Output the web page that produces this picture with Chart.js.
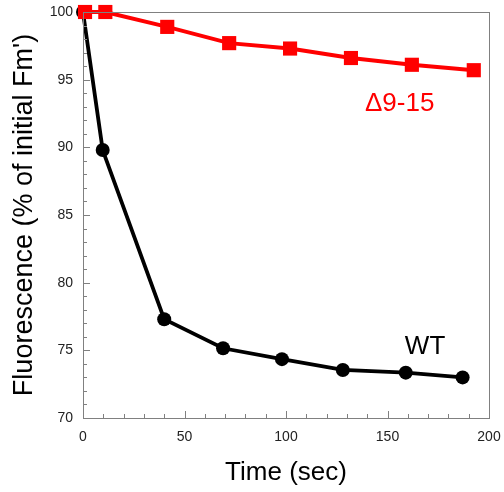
<!DOCTYPE html>
<html>
<head>
<meta charset="utf-8">
<script src="https://cdn.jsdelivr.net/npm/chart.js@4"></script>
<style>
  html, body { margin: 0; padding: 0; background: #fff; }
  #wrap { width: 504px; height: 492px; }
</style>
</head>
<body>
<div id="wrap"><canvas id="fluor-chart" width="504" height="492"></canvas></div>
<script>
// time (sec) and fluorescence (% of initial Fm')
const wtTime = [0, 9.7, 40, 69, 98, 128, 159, 187];
const wtValues = [100, 89.8, 77.3, 75.15, 74.35, 73.55, 73.35, 73.0];
const mutTime = [1, 11, 41.5, 72, 102, 132, 162, 192.5];
const mutValues = [100, 100, 98.9, 97.7, 97.3, 96.6, 96.1, 95.7];
const xTicks = [0, 50, 100, 150, 200];
const yTicks = [70, 75, 80, 85, 90, 95, 100];
const seriesLabels = ['\u03949-15', 'WT'];
// where the two series names sit, in data units
const labelSpots = [[156, 93.25], [168.5, 75.25]];

const fontFamily = '"Liberation Sans", Arial, sans-serif';
const axisGray = '#808080';

const toPoints = (xs, ys) => xs.map((x, i) => ({ x: x, y: ys[i] }));

// keep the plot box where the figure has it, labels may overhang
function noEdgePadding(scale) {
  scale.paddingLeft = 0;
  scale.paddingRight = 0;
  scale.paddingTop = 0;
  scale.paddingBottom = 0;
}

// inward tick marks + box frame, drawn through the chart scales
const frameTicks = {
  id: 'frameTicks',
  afterDraw(chart) {
    const ctx = chart.ctx;
    const area = chart.chartArea;
    const xs = chart.scales.x;
    const ys = chart.scales.y;
    ctx.save();
    ctx.strokeStyle = axisGray;
    ctx.lineWidth = 1;
    ctx.strokeRect(area.left + 0.5, area.top + 0.5, area.right - area.left, area.bottom - area.top);
    ctx.beginPath();
    for (let v = 0; v <= 200; v += 10) {
      const px = Math.round(xs.getPixelForValue(v)) + 0.5;
      const len = v % 50 === 0 ? 7 : 4;
      ctx.moveTo(px, area.bottom);
      ctx.lineTo(px, area.bottom - len);
    }
    for (let v = 70; v <= 100; v += 1) {
      const py = Math.round(ys.getPixelForValue(v)) + 0.5;
      const len = v % 5 === 0 ? 7 : 4;
      ctx.moveTo(area.left, py);
      ctx.lineTo(area.left + len, py);
    }
    ctx.stroke();
    ctx.restore();
  },
  afterDatasetsDraw(chart) {
    const ctx = chart.ctx;
    const xs = chart.scales.x;
    const ys = chart.scales.y;
    ctx.save();
    ctx.font = '26px ' + fontFamily;
    ctx.textAlign = 'center';
    ctx.textBaseline = 'middle';
    const colors = ['#ff0000', '#000000'];
    seriesLabels.forEach((txt, i) => {
      ctx.fillStyle = colors[i];
      ctx.fillText(txt, xs.getPixelForValue(labelSpots[i][0]), ys.getPixelForValue(labelSpots[i][1]));
    });
    ctx.restore();
  }
};

new Chart(document.getElementById('fluor-chart').getContext('2d'), {
  type: 'line',
  data: {
    datasets: [
      {
        label: seriesLabels[0],
        data: toPoints(mutTime, mutValues),
        borderColor: '#ff0000',
        backgroundColor: '#ff0000',
        borderWidth: 4,
        pointStyle: 'rect',
        pointRadius: 10,
        pointBorderWidth: 0,
        clip: false,
      },
      {
        label: seriesLabels[1],
        data: toPoints(wtTime, wtValues),
        borderColor: '#000000',
        backgroundColor: '#000000',
        borderWidth: 3.8,
        pointStyle: 'circle',
        pointRadius: 7,
        pointBorderWidth: 0,
        clip: false,
      },
    ],
  },
  options: {
    responsive: false,
    animation: false,
    layout: { padding: { top: 12, right: 15, left: 0, bottom: 0 } },
    plugins: { legend: { display: false }, tooltip: { enabled: false } },
    scales: {
      x: {
        type: 'linear',
        min: 0,
        max: 200,
        afterFit(scale) { scale.height = 74; noEdgePadding(scale); },
        afterBuildTicks(scale) { scale.ticks = xTicks.map(v => ({ value: v })); },
        grid: { display: false, drawTicks: false },
        border: { display: false },
        ticks: { padding: 11, color: '#222', font: { family: fontFamily, size: 14 }, maxRotation: 0 },
        title: { display: true, text: 'Time (sec)', color: '#000', padding: { top: 0, bottom: 4 }, font: { family: fontFamily, size: 26 } },
      },
      y: {
        type: 'linear',
        min: 70,
        max: 100,
        afterFit(scale) { scale.width = 83; noEdgePadding(scale); },
        afterBuildTicks(scale) { scale.ticks = yTicks.map(v => ({ value: v })); },
        grid: { display: false, drawTicks: false },
        border: { display: false },
        ticks: { padding: 10, color: '#222', font: { family: fontFamily, size: 14 } },
        title: { display: true, text: "Fluorescence (% of initial Fm')", color: '#000', padding: { top: 8, bottom: 0 }, font: { family: fontFamily, size: 27 } },
      },
    },
  },
  plugins: [frameTicks],
});
</script>
</body>
</html>
